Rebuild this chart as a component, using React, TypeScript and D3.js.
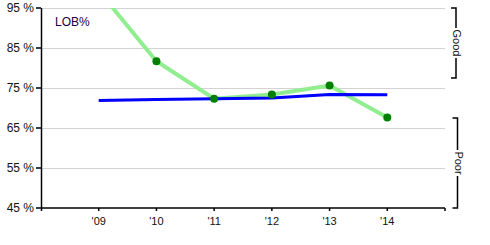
import React from "react";
import * as d3 from "d3";

const years = [2009, 2010, 2011, 2012, 2013, 2014];
const yearLabels = ["'09", "'10", "'11", "'12", "'13", "'14"];
const playerLOB = [99.3, 81.7, 72.3, 73.4, 75.6, 67.6];
const leagueLOB = [71.9, 72.1, 72.3, 72.5, 73.4, 73.3];
const yTicks = [45, 55, 65, 75, 85, 95];
const bands = [
  { label: "Good", from: 95, to: 77.5 },
  { label: "Poor", from: 67.5, to: 45 },
];

const W = 490;
const H = 245;
const left = 41;
const right = 445;
const top = 8;
const bottom = 208;

export default function App() {
  const x = d3.scaleLinear().domain([2008, 2015]).range([left, right]);
  const y = d3.scaleLinear().domain([45, 95]).range([bottom, top]);
  const line = d3
    .line<number>()
    .x((_, i) => x(years[i]))
    .y((d) => y(d));
  const font = "Arial, 'Liberation Sans', sans-serif";

  return (
    <svg
      width={W}
      height={H}
      style={{ position: "absolute", left: 0, top: 0, background: "#fff" }}
      fontFamily={font}
    >
      <defs>
        <clipPath id="plot">
          <rect x={left} y={top} width={right - left} height={bottom - top} />
        </clipPath>
      </defs>
      {/* grid */}
      {yTicks.slice(1).map((t) => (
        <line key={t} x1={left} x2={right} y1={y(t)} y2={y(t)} stroke="#d3d3d3" strokeWidth={1} shapeRendering="crispEdges" />
      ))}
      {/* y axis */}
      <line x1={left + 0.5} x2={left + 0.5} y1={top} y2={bottom + 3} stroke="#000" strokeWidth={1.5} />
      {yTicks.map((t) => (
        <g key={t}>
          <line x1={left - 5} x2={left} y1={y(t)} y2={y(t)} stroke="#000" strokeWidth={1.5} />
          <text x={left - 7} y={y(t)} dy="0.35em" textAnchor="end" fontSize={12} fill="#111">
            {t} %
          </text>
        </g>
      ))}
      {/* x axis */}
      <line x1={left} x2={right} y1={bottom} y2={bottom} stroke="#000" strokeWidth={1.5} />
      <line x1={right} x2={right} y1={bottom} y2={bottom + 3} stroke="#000" strokeWidth={1.5} />
      {years.map((yr, i) => (
        <g key={yr}>
          <line x1={x(yr)} x2={x(yr)} y1={bottom} y2={bottom + 3} stroke="#000" strokeWidth={1.5} />
          <text x={x(yr)} y={bottom + 13} dy="0.35em" textAnchor="middle" fontSize={11} fill="#111">
            {yearLabels[i]}
          </text>
        </g>
      ))}
      {/* series */}
      <g clipPath="url(#plot)">
        <path d={line(playerLOB) || ""} fill="none" stroke="#90ee90" strokeWidth={4} />
        <path d={line(leagueLOB) || ""} fill="none" stroke="#0000ff" strokeWidth={3} />
        {playerLOB.map((v, i) => (
          <circle key={i} cx={x(years[i])} cy={y(v)} r={4} fill="#008000" />
        ))}
      </g>
      <text x={55} y={22} dy="0.35em" fontSize={12} fill="#220044">
        LOB%
      </text>
      {/* bands */}
      {bands.map((b, i) => {
        const y1 = y(b.from);
        const y2 = y(b.to);
        const bx = i === 0 ? 456 : 457.5;
        const mid = (y1 + y2) / 2;
        const half = i === 0 ? 15 : 13;
        return (
          <g key={b.label}>
            <path
              d={`M${bx - 5},${y1}H${bx}V${mid - half}M${bx},${mid + half}V${y2}H${bx - 5}`}
              fill="none"
              stroke="#000"
              strokeWidth={1.5}
            />
            <text
              transform={`translate(${bx + 1},${mid}) rotate(90)`}
              textAnchor="middle"
              dy="0.35em"
              fontSize={11}
              fill="#111"
            >
              {b.label}
            </text>
          </g>
        );
      })}
    </svg>
  );
}
